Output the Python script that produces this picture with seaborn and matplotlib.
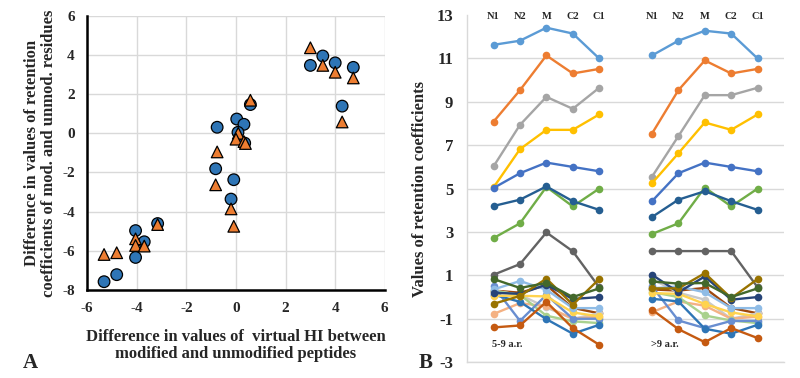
import numpy as np
import pandas as pd
import seaborn as sns
import matplotlib
matplotlib.use('Agg')
import matplotlib.pyplot as plt

# ---- panel A data (circles / triangles) ----
circ_x = [3.0, 3.5, 4.0, 4.73, 4.28, 0.58, 0.03, 0.32, 0.08, -0.76,
          0.35, -0.82, -0.09, -0.2, -3.16, -4.05, -3.7, -4.05, -4.81, -5.32]
circ_y = [3.47, 3.95, 3.6, 3.37, 1.39, 1.47, 0.73, 0.46, 0.05, 0.31,
          -0.5, -1.81, -2.37, -3.36, -4.61, -4.97, -5.54, -6.34, -7.22, -7.58]
tri_x = [3.0, 3.5, 4.0, 4.73, 4.28, 0.58, 0.09, 0.0, 0.32, 0.38,
         -0.76, -0.82, -0.2, -0.09, -3.16, -4.05, -4.05, -3.7, -4.81, -5.32]
tri_y = [4.37, 3.47, 3.12, 2.83, 0.58, 1.69, 0.0, -0.3, -0.42, -0.52,
         -0.95, -2.63, -3.86, -4.75, -4.66, -5.39, -5.73, -5.76, -6.1, -6.19]

# ---- panel B data: 5 positions for 5-9 a.r., then 5 for >9 a.r. ----
positions = ['N1', 'N2', 'M', 'C2', 'C1']
groups = ['5-9 a.r.', '>9 a.r.']
sky = [11.63, 11.82, 12.42, 12.15, 11.0, 11.14, 11.82, 12.28, 12.15, 11.0]
orange = [8.09, 9.54, 11.14, 10.31, 10.52, 7.54, 9.54, 10.91, 10.31, 10.52]
gray = [6.03, 7.94, 9.23, 8.68, 9.65, 5.55, 7.42, 9.31, 9.31, 9.65]
gold = [5.06, 6.82, 7.71, 7.71, 8.42, 5.25, 6.63, 8.05, 7.71, 8.42]
blue = [5.03, 5.71, 6.2, 6.0, 5.8, 4.42, 5.71, 6.2, 6.0, 5.8]
green = [2.72, 3.4, 5.08, 4.18, 5.0, 2.91, 3.4, 5.05, 4.18, 5.0]
darkblue = [4.2, 4.49, 5.1, 4.42, 4.02, 3.69, 4.49, 4.88, 4.42, 4.02]
darkgray = [1.03, 1.52, 2.98, 2.11, 0.45, 2.12, 2.12, 2.12, 2.12, 0.45]
brown = [0.3, 0.2, 0.55, -0.5, -0.75, 0.35, 0.3, 0.42, -0.5, -0.75]
silver = [0.3, 0.1, -0.48, -1.0, -0.75, 0.83, 0.2, -0.12, -1.0, -0.75]
peach = [-0.78, -0.28, -0.43, -1.0, -0.9, -0.7, -0.2, -0.4, -1.0, -0.9]
lime = [0.29, 0.1, -0.86, -1.12, -1.2, 0.23, 0.0, -0.85, -1.08, -1.2]
midblue = [0.49, -1.1, 0.1, -1.0, -1.0, 0.49, -1.08, -1.43, -1.1, -1.1]
steel = [0.11, -0.22, -1.02, -1.69, -1.28, -0.08, -0.2, -1.46, -1.69, -1.28]
lemon = [0.06, 0.06, 0.03, -0.71, -0.89, 0.18, 0.15, -0.32, -0.71, -0.89]
paleblue = [0.35, 0.74, 0.34, -0.51, -0.51, 0.4, 0.49, 0.22, -0.51, -0.51]
navy = [0.2, 0.15, 0.57, -0.09, 0.0, 1.03, 0.22, 0.95, -0.12, 0.0]
rust = [-1.4, -1.31, -0.22, -1.43, -2.2, -0.58, -1.48, -2.08, -1.43, -1.89]
olivegold = [-0.31, 0.05, 0.85, -0.35, 0.83, 0.4, 0.4, 1.1, -0.05, 0.83]
olivegreen = [0.83, 0.42, 0.65, 0.0, 0.4, 0.72, 0.62, 0.65, 0.0, 0.4]

series = {'sky': sky, 'orange': orange, 'gray': gray, 'gold': gold, 'blue': blue,
          'green': green, 'darkblue': darkblue, 'darkgray': darkgray, 'brown': brown,
          'silver': silver, 'peach': peach, 'lime': lime, 'midblue': midblue,
          'steel': steel, 'lemon': lemon, 'paleblue': paleblue, 'navy': navy,
          'rust': rust, 'olivegold': olivegold, 'olivegreen': olivegreen}

palette = {'sky': '#5B9BD5', 'orange': '#ED7D31', 'gray': '#A5A5A5', 'gold': '#FFC000',
           'blue': '#4472C4', 'green': '#70AD47', 'darkblue': '#255E91', 'darkgray': '#636363',
           'brown': '#9E480E', 'silver': '#C9C9C9', 'peach': '#F4B183', 'lime': '#A9D18E',
           'midblue': '#698ED0', 'steel': '#2E75B6', 'lemon': '#FFD34F', 'paleblue': '#8FBCE6',
           'navy': '#264478', 'rust': '#C55A11', 'olivegold': '#997300', 'olivegreen': '#43682B'}

sns.set_style('white')
plt.rcParams['font.family'] = ['Liberation Serif', 'DejaVu Serif']
plt.rcParams['font.weight'] = 'bold'
plt.rcParams['axes.unicode_minus'] = False

fig = plt.figure(figsize=(8, 3.78), dpi=100)

# ---------------- panel A ----------------
axA = fig.add_axes([0.109, 0.233, 0.372, 0.725])
dfA = pd.DataFrame({'x': circ_x + tri_x, 'y': circ_y + tri_y,
                    'kind': ['circle'] * len(circ_x) + ['triangle'] * len(tri_x)})
sns.scatterplot(data=dfA, x='x', y='y', hue='kind', style='kind',
                palette={'circle': '#2E75B6', 'triangle': '#ED7D31'},
                markers={'circle': 'o', 'triangle': '^'}, s=70,
                edgecolor='black', linewidth=0.9, legend=False, ax=axA, zorder=3)
axA.set_xlim(-6, 6)
axA.set_ylim(-8, 6)
axA.set_xticks(range(-6, 7, 2))
axA.set_yticks(range(-8, 7, 2))
axA.grid(True, color='#D9D9D9', linewidth=1)
for s in ['top', 'right']:
    axA.spines[s].set_visible(False)
for s in ['left', 'bottom']:
    axA.spines[s].set_color('black')
    axA.spines[s].set_linewidth(1.8)
axA.tick_params(length=0, labelsize=11, pad=9)
axA.set_xlabel('Difference in values of  virtual HI between\nmodified and unmodified peptides',
               fontsize=12, fontweight='bold', labelpad=10, linespacing=1.05)
axA.set_ylabel('Difference in values of retention\ncoefficients of mod. and unmod. residues',
               fontsize=12, fontweight='bold', labelpad=4, linespacing=1.05)
for lab in axA.get_xticklabels() + axA.get_yticklabels():
    lab.set_fontweight('bold')

# ---------------- panel B ----------------
axB = fig.add_axes([0.584, 0.042, 0.396, 0.918])
rows = []
for name, vals in series.items():
    for gi, grp in enumerate(groups):
        for pi, pos in enumerate(positions):
            rows.append({'series': name, 'group': grp, 'xpos': gi * 6 + pi,
                         'value': vals[gi * 5 + pi]})
dfB = pd.DataFrame(rows)
sns.lineplot(data=dfB, x='xpos', y='value', hue='series', units='group', estimator=None,
             palette=palette, marker='o', markersize=5.5, markeredgewidth=0,
             linewidth=1.7, legend=False, sort=False, ax=axB)
axB.set_xlim(-1, 11)
axB.set_ylim(-3, 13)
axB.set_yticks(range(-3, 14, 2))
axB.set_xticks([])
axB.yaxis.grid(True, color='#D9D9D9', linewidth=1)
axB.get_ygridlines()[-1].set_visible(False)
for s in ['top', 'right']:
    axB.spines[s].set_visible(False)
for s in ['left', 'bottom']:
    axB.spines[s].set_color('#D9D9D9')
    axB.spines[s].set_linewidth(1)
axB.tick_params(length=0, labelsize=12, pad=10)
for lab in axB.get_yticklabels():
    lab.set_fontweight('bold')
axB.set_xlabel('')
axB.set_ylabel('Values of retention coefficients', fontsize=12, fontweight='bold', labelpad=6)

for gi in range(2):
    for pi, pos in enumerate(positions):
        axB.text(gi * 6 + pi, 12.95, pos, ha='center', va='center', fontsize=7.5,
                 fontweight='bold')
    axB.text(gi * 6 - 0.05, -2.2, groups[gi], ha='left', va='center', fontsize=7.5,
             fontweight='bold')

fig.text(0.028, 0.04, 'A', fontsize=15, fontweight='bold', ha='left', va='center')
fig.text(0.523, 0.04, 'B', fontsize=15, fontweight='bold', ha='left', va='center')

fig.savefig('out.png', dpi=100)
